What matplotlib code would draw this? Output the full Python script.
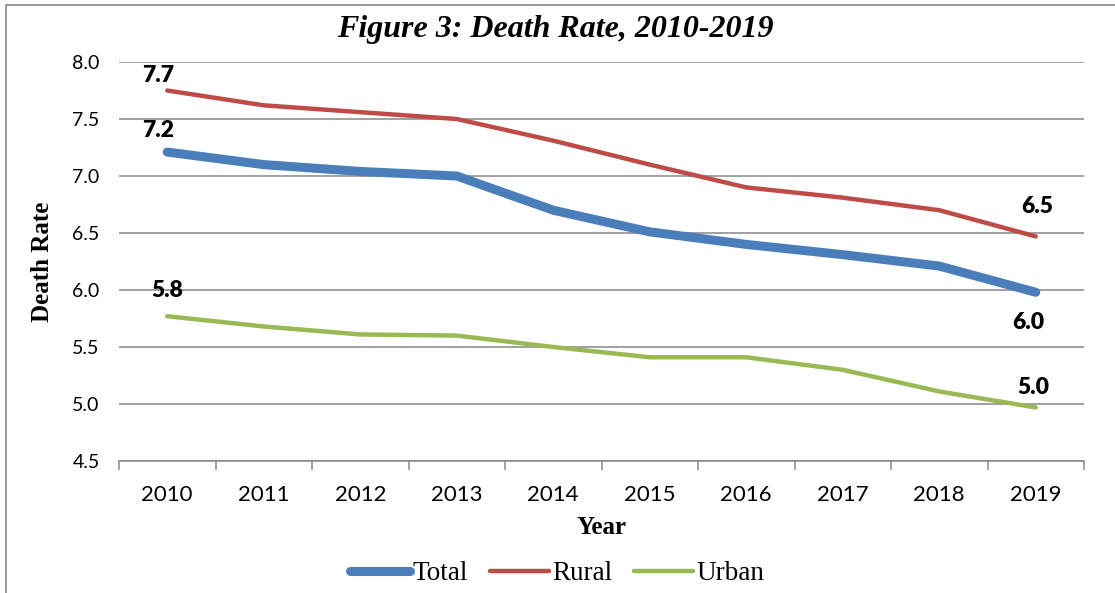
import numpy as np
import matplotlib.pyplot as plt
from matplotlib.patches import Rectangle

years = ['2010', '2011', '2012', '2013', '2014', '2015', '2016', '2017', '2018', '2019']
total = [7.21, 7.10, 7.04, 7.00, 6.70, 6.51, 6.40, 6.31, 6.21, 5.98]
rural = [7.75, 7.62, 7.56, 7.50, 7.31, 7.10, 6.90, 6.81, 6.70, 6.47]
urban = [5.77, 5.68, 5.61, 5.60, 5.50, 5.41, 5.41, 5.30, 5.11, 4.97]

serif = ['Liberation Serif', 'DejaVu Serif']
sans = ['Lato', 'DejaVu Sans']

fig = plt.figure(figsize=(11.15, 5.93), dpi=100)
ax = fig.add_axes([119 / 1115, 1 - 461 / 593, (1084 - 119) / 1115, (461 - 62) / 593])

x = np.arange(len(years))
ax.plot(x, total, color='#4A7EBB', lw=6.5, solid_capstyle='round', solid_joinstyle='round', label='Total', zorder=3)
ax.plot(x, rural, color='#BE4B48', lw=3.2, solid_capstyle='round', solid_joinstyle='round', label='Rural', zorder=3)
ax.plot(x, urban, color='#98B954', lw=3.2, solid_capstyle='round', solid_joinstyle='round', label='Urban', zorder=3)

# data labels at first and last points (offsets in pixels)
labels = [
    (0, rural[0], '7.7', (-9, 15)),
    (0, total[0], '7.2', (-9, 22)),
    (0, urban[0], '5.8', (0, 26)),
    (9, rural[9], '6.5', (1, 30)),
    (9, total[9], '6.0', (-7, -30)),
    (9, urban[9], '5.0', (-2, 20)),
]
for xi, yi, txt, off in labels:
    ax.annotate(txt, (xi, yi), xytext=off, textcoords='offset pixels',
                ha='center', va='center', fontsize=16.5, fontweight='heavy', family=sans)

ax.set_xlim(-0.5, 9.5)
ax.set_ylim(4.5, 8.0)
ax.set_yticks(np.arange(4.5, 8.01, 0.5))
ax.set_yticklabels([f'{v:.1f}' for v in np.arange(4.5, 8.01, 0.5)], family=sans, fontsize=14)
ax.set_xticks(x)
ax.set_xticklabels(years, family=sans, fontsize=16)
ax.set_xticks(np.arange(-0.5, 9.6, 1), minor=True)
ax.tick_params(axis='y', length=0, pad=14)
ax.tick_params(axis='x', which='major', length=0, pad=17)
ax.tick_params(axis='x', which='minor', length=6.5, width=1.1, color='#868686')

ax.grid(axis='y', color='#868686', lw=1.1)
ax.set_axisbelow(True)
for s in ['top', 'right', 'left']:
    ax.spines[s].set_visible(False)
ax.spines['bottom'].set_color('#868686')
ax.spines['bottom'].set_linewidth(1.1)

ax.set_ylabel('Death Rate', family=serif, fontsize=18, fontweight='bold', labelpad=13)
ax.set_xlabel('Year', family=serif, fontsize=18, fontweight='bold', labelpad=8)

fig.text(555 / 1115, 1 - 30 / 593, 'Figure 3: Death Rate, 2010-2019', ha='center', va='center',
         family=serif, fontsize=23, fontweight='bold', style='italic')

fig.legend(loc='center', bbox_to_anchor=(557 / 1115, 1 - 574 / 593), ncol=3, frameon=False,
           prop={'family': serif, 'size': 19.5}, handlelength=2.2, handletextpad=0.1,
           columnspacing=0.8, borderpad=0)

fig.patches.append(Rectangle((6 / 1115, -0.1), 1.2, 1.1 - 5 / 593, transform=fig.transFigure,
                             fill=False, edgecolor='#888888', lw=1.2))

fig.savefig('out.png', dpi=100)
